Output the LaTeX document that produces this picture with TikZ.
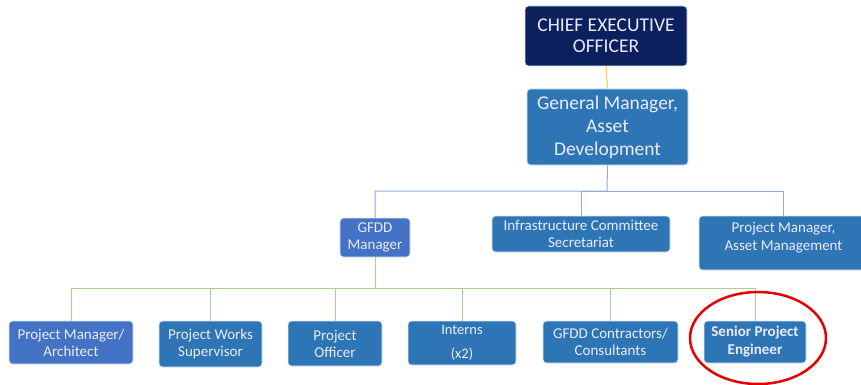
\documentclass[tikz,border=0pt]{standalone}
\usepackage{fontspec}
\setmainfont{Carlito}
\usepackage{tikz}

\definecolor{ceoblue}{RGB}{12,32,94}
\definecolor{unitblue}{RGB}{46,117,182}
\definecolor{leadblue}{RGB}{68,114,196}
\definecolor{edgeblue}{RGB}{222,232,245}
\definecolor{linkblue}{RGB}{143,170,220}
\definecolor{linkgreen}{RGB}{169,209,142}
\definecolor{linkgold}{RGB}{250,206,80}
\definecolor{ringred}{RGB}{230,0,0}

\begin{document}
\begin{tikzpicture}[x=1pt,y=1pt,yscale=-1,xscale=1,
  box/.style={draw=edgeblue,line width=0.6pt,rounded corners=3.5pt,fill=unitblue,
    text=white!92!blue,align=center,inner sep=0pt,
    font=\fontsize{15}{17}\selectfont},
  topline/.style={draw=linkblue,line width=1pt},
  lowline/.style={draw=linkgreen,line width=1pt}]
\useasboundingbox (0,0) rectangle (861,385);

\node [box,fill=ceoblue,minimum width=162,minimum height=60,font=\fontsize{19.5}{21}\selectfont] (ceo) at (606,36) {CHIEF EXECUTIVE\\OFFICER};
\node [box,minimum width=161,minimum height=76,font=\fontsize{19.5}{23}\selectfont] (gm) at (607.5,127) {General Manager,\\Asset\\Development};

\node [box,fill=leadblue,minimum width=70,minimum height=39] (gfdd) at (375,237.5) {GFDD\\Manager};
\node [box,minimum width=178,minimum height=36] (infra) at (581,234) {Infrastructure Committee\\Secretariat};
\node [box,minimum width=169,minimum height=54,font=\fontsize{15}{18}\selectfont] (pmam) at (783.5,243) {Project Manager,\\Asset Management\\[-4pt]};

\node [box,fill=leadblue,minimum width=124,minimum height=43] (pma) at (71,342.5) {Project Manager/\\Architect};
\node [box,minimum width=103,minimum height=46] (pws) at (210.5,344) {Project Works\\Supervisor};
\node [box,minimum width=94,minimum height=45] (po) at (335,343.5) {Project\\Officer};
\node [box,minimum width=108,minimum height=44,font=\fontsize{14.5}{24}\selectfont] (interns) at (462,343) {Interns\\(x2)};
\node [box,minimum width=135,minimum height=42] (contr) at (610.5,342) {GFDD Contractors/\\Consultants};
\node [box,minimum width=102,minimum height=42,font=\bfseries\fontsize{15}{18}\selectfont] (spe) at (755,342) {Senior Project\\Engineer};

\coordinate (topbus) at (607,191);
\coordinate (lowbus) at (375,288);

\draw [draw=linkgold,line width=1.2pt] (ceo.south) -- (gm.north);

\draw [topline] (gm.south) -- (topbus) -| (gfdd.north);
\draw [topline] (topbus) -| (infra.north);
\draw [topline] (topbus) -| (pmam.north);

\draw [lowline] (gfdd.south) -- (lowbus) -| (pma.north);
\draw [lowline] (lowbus) -| (pws.north);
\draw [lowline] (lowbus) -| (po.north);
\draw [lowline] (lowbus) -| (interns.north);
\draw [lowline] (lowbus) -| (contr.north);
\draw [lowline] (lowbus) -| (spe.north);

\draw [draw=ringred,line width=2.5pt] (758,338) ellipse [x radius=68,y radius=46];
\end{tikzpicture}
\end{document}
